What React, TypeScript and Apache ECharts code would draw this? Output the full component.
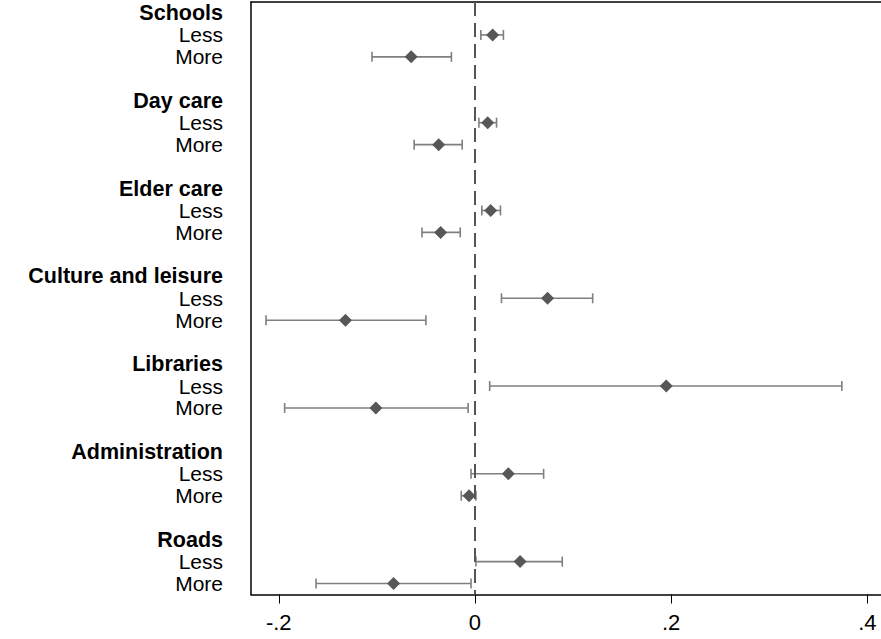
import React, { useEffect, useRef } from "react";
import * as echarts from "echarts";

const groups = ["Schools", "Day care", "Elder care", "Culture and leisure", "Libraries", "Administration", "Roads"];
const subLabels = ["Less", "More"];
const lessEst = [0.018, 0.013, 0.016, 0.074, 0.195, 0.034, 0.046];
const lessLo = [0.006, 0.004, 0.007, 0.027, 0.015, -0.004, 0.001];
const lessHi = [0.029, 0.022, 0.026, 0.12, 0.374, 0.07, 0.089];
const moreEst = [-0.065, -0.037, -0.035, -0.132, -0.101, -0.006, -0.083];
const moreLo = [-0.105, -0.062, -0.054, -0.213, -0.194, -0.014, -0.162];
const moreHi = [-0.024, -0.013, -0.015, -0.05, -0.007, 0.001, -0.004];
const xTicks = [-0.2, 0, 0.2, 0.4];

const FONT = "'Liberation Sans', Arial, Helvetica, sans-serif";
const X_MIN = -0.2283;
const X_MAX = 0.4139;

export default function App() {
  const ref = useRef<HTMLDivElement>(null);
  useEffect(() => {
    document.body.style.margin = "0";
    if (!ref.current) return;
    const chart = echarts.init(ref.current, undefined, { renderer: "svg" });

    const rowLabels: string[] = [];
    const isHeader: boolean[] = [];
    groups.forEach((g, i) => {
      rowLabels.push(g); isHeader.push(true);
      rowLabels.push(subLabels[0]); isHeader.push(false);
      rowLabels.push(subLabels[1]); isHeader.push(false);
      if (i < groups.length - 1) { rowLabels.push(""); isHeader.push(false); }
    });
    const rowKeys = rowLabels.map((_, i) => "r" + i);

    const points: any[] = [];
    const bars: any[] = [];
    groups.forEach((_, g) => {
      points.push([lessEst[g], 4 * g + 1]);
      points.push([moreEst[g], 4 * g + 2]);
      bars.push([lessLo[g], lessHi[g], 4 * g + 1]);
      bars.push([moreLo[g], moreHi[g], 4 * g + 2]);
    });

    const fmt = (v: number) => {
      if (Math.abs(v) < 1e-9) return "0";
      const s = String(Math.round(v * 10) / 10);
      return s.replace("0.", ".");
    };

    chart.setOption({
      animation: false,
      textStyle: { fontFamily: FONT },
      grid: { left: 251, right: 0, top: 2, bottom: 44.5, show: false, containLabel: false },
      xAxis: [
        {
          type: "value",
          min: X_MIN,
          max: X_MAX,
          position: "bottom",
          splitLine: { show: false },
          axisLine: { show: true, onZero: false, lineStyle: { color: "#000", width: 1.5 } },
          axisTick: { show: true, length: 9, customValues: xTicks, lineStyle: { color: "#000", width: 1 } },
          axisLabel: { customValues: xTicks, formatter: fmt, fontSize: 22, color: "#000", margin: 17, fontFamily: FONT },
        },
        {
          type: "value",
          min: X_MIN,
          max: X_MAX,
          position: "top",
          splitLine: { show: false },
          axisLine: { show: true, onZero: false, lineStyle: { color: "#000", width: 1.5 } },
          axisTick: { show: false },
          axisLabel: { show: false },
        },
      ],
      yAxis: {
        type: "category",
        inverse: true,
        data: rowKeys,
        axisLine: { show: true, onZero: false, lineStyle: { color: "#000", width: 1.5 } },
        axisTick: { show: false },
        splitLine: { show: false },
        axisLabel: {
          interval: 0,
          margin: 28,
          fontFamily: FONT,
          formatter: (_v: string, idx: number) => {
            const t = rowLabels[idx];
            if (!t) return "";
            return isHeader[idx] ? `{b|${t}}` : `{n|${t}}`;
          },
          rich: {
            b: { fontSize: 21.5, lineHeight: 20, fontWeight: "bold", color: "#000", fontFamily: FONT },
            n: { fontSize: 21, lineHeight: 20, color: "#000", fontFamily: FONT },
          },
        },
      },
      series: [
        {
          type: "custom",
          data: bars,
          z: 2,
          renderItem: (params: any, api: any) => {
            const lo = api.coord([api.value(0), api.value(2)]);
            const hi = api.coord([api.value(1), api.value(2)]);
            const h = 5;
            const style = { stroke: "#7f7f7f", lineWidth: 1.6 };
            return {
              type: "group",
              children: [
                { type: "line", shape: { x1: lo[0], y1: lo[1], x2: hi[0], y2: hi[1] }, style },
                { type: "line", shape: { x1: lo[0], y1: lo[1] - h, x2: lo[0], y2: lo[1] + h }, style },
                { type: "line", shape: { x1: hi[0], y1: hi[1] - h, x2: hi[0], y2: hi[1] + h }, style },
              ],
            };
          },
        },
        {
          type: "scatter",
          data: points,
          symbol: "diamond",
          symbolSize: 13,
          z: 3,
          itemStyle: { color: "#575757", opacity: 1 },
          markLine: {
            silent: true,
            symbol: ["none", "none"],
            label: { show: false },
            lineStyle: { color: "#555", width: 2, type: [14, 7] },
            data: [{ xAxis: 0 }],
          },
        },
      ],
    });
    return () => chart.dispose();
  }, []);
  return <div ref={ref} style={{ width: 881, height: 639 }} />;
}
